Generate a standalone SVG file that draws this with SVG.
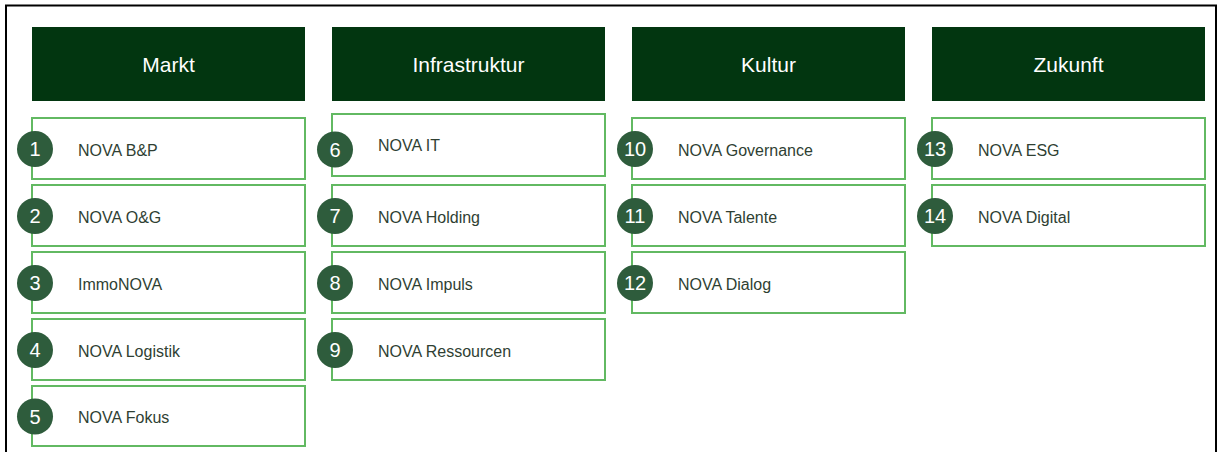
<svg xmlns="http://www.w3.org/2000/svg" width="1219" height="452" viewBox="0 0 1219 452">
<style>
.hdr{fill:#023610;}
.hdrt{font-family:"Liberation Sans",Arial,sans-serif;font-size:21px;fill:#ffffff;text-anchor:middle;}
.box{fill:#ffffff;stroke:#62b962;stroke-width:2;}
.lbl{font-family:"Liberation Sans",Arial,sans-serif;font-size:16px;fill:#2f3f33;}
.num{fill:#2e5c3c;}
.numt{font-family:"Liberation Sans",Arial,sans-serif;font-size:20px;fill:#ffffff;text-anchor:middle;}
</style>
<rect x="0" y="0" width="1219" height="452" fill="#ffffff"/>
<rect x="6" y="5.5" width="1210" height="460" fill="none" stroke="#000000" stroke-width="2"/>
<g id="connectors"></g>
<g id="hdr-markt"><rect class="hdr" x="32" y="27" width="273" height="74"/><text class="hdrt" x="168.5" y="72">Markt</text></g>
<g id="hdr-infrastruktur"><rect class="hdr" x="332" y="27" width="273" height="74"/><text class="hdrt" x="468.5" y="72">Infrastruktur</text></g>
<g id="hdr-kultur"><rect class="hdr" x="632" y="27" width="273" height="74"/><text class="hdrt" x="768.5" y="72">Kultur</text></g>
<g id="hdr-zukunft"><rect class="hdr" x="932" y="27" width="273" height="74"/><text class="hdrt" x="1068.5" y="72">Zukunft</text></g>

<g id="n1"><rect class="box" x="32" y="118" width="273" height="61"/><text class="lbl" x="78" y="155.5">NOVA B&amp;P</text><circle class="num" cx="35" cy="149" r="18"/><text class="numt" x="35" y="156">1</text></g>
<g id="n2"><rect class="box" x="32" y="185" width="273" height="61"/><text class="lbl" x="78" y="222.5">NOVA O&amp;G</text><circle class="num" cx="35" cy="216" r="18"/><text class="numt" x="35" y="223">2</text></g>
<g id="n3"><rect class="box" x="32" y="252" width="273" height="61"/><text class="lbl" x="78" y="289.5">ImmoNOVA</text><circle class="num" cx="35" cy="283" r="18"/><text class="numt" x="35" y="290">3</text></g>
<g id="n4"><rect class="box" x="32" y="319" width="273" height="61"/><text class="lbl" x="78" y="356.5">NOVA Logistik</text><circle class="num" cx="35" cy="350" r="18"/><text class="numt" x="35" y="357">4</text></g>
<g id="n5"><rect class="box" x="32" y="386" width="273" height="60"/><text class="lbl" x="78" y="423">NOVA Fokus</text><circle class="num" cx="35" cy="416.5" r="18"/><text class="numt" x="35" y="423.5">5</text></g>

<g id="n6"><rect class="box" x="332" y="114" width="273" height="62"/><text class="lbl" x="378" y="151">NOVA IT</text><circle class="num" cx="335" cy="149.5" r="18"/><text class="numt" x="335" y="156.5">6</text></g>
<g id="n7"><rect class="box" x="332" y="185" width="273" height="61"/><text class="lbl" x="378" y="222.5">NOVA Holding</text><circle class="num" cx="335" cy="216" r="18"/><text class="numt" x="335" y="223">7</text></g>
<g id="n8"><rect class="box" x="332" y="252" width="273" height="61"/><text class="lbl" x="378" y="289.5">NOVA Impuls</text><circle class="num" cx="335" cy="283" r="18"/><text class="numt" x="335" y="290">8</text></g>
<g id="n9"><rect class="box" x="332" y="319" width="273" height="61"/><text class="lbl" x="378" y="356.5">NOVA Ressourcen</text><circle class="num" cx="335" cy="350" r="18"/><text class="numt" x="335" y="357">9</text></g>

<g id="n10"><rect class="box" x="632" y="118" width="273" height="61"/><text class="lbl" x="678" y="155.5">NOVA Governance</text><circle class="num" cx="635" cy="149" r="18"/><text class="numt" x="635" y="156">10</text></g>
<g id="n11"><rect class="box" x="632" y="185" width="273" height="61"/><text class="lbl" x="678" y="222.5">NOVA Talente</text><circle class="num" cx="635" cy="216" r="18"/><text class="numt" x="635" y="223">11</text></g>
<g id="n12"><rect class="box" x="632" y="252" width="273" height="61"/><text class="lbl" x="678" y="289.5">NOVA Dialog</text><circle class="num" cx="635" cy="283" r="18"/><text class="numt" x="635" y="290">12</text></g>

<g id="n13"><rect class="box" x="932" y="118" width="273" height="61"/><text class="lbl" x="978" y="155.5">NOVA ESG</text><circle class="num" cx="935" cy="149" r="18"/><text class="numt" x="935" y="156">13</text></g>
<g id="n14"><rect class="box" x="932" y="185" width="273" height="61"/><text class="lbl" x="978" y="222.5">NOVA Digital</text><circle class="num" cx="935" cy="216" r="18"/><text class="numt" x="935" y="223">14</text></g>
</svg>
